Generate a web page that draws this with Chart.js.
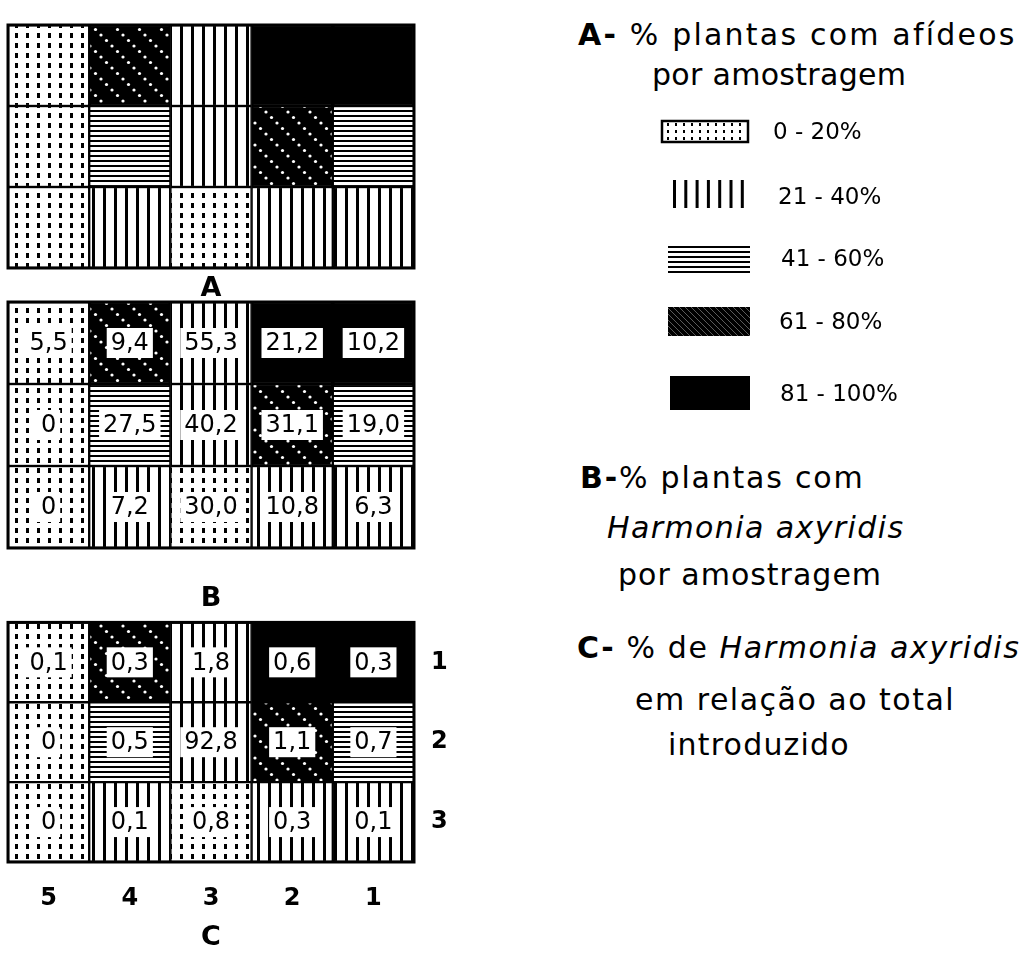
<!DOCTYPE html>
<html>
<head>
<meta charset="utf-8">
<script src="https://cdn.jsdelivr.net/npm/chart.js@4.4.1/dist/chart.umd.min.js"></script>
<style>
  body { margin: 0; background: #fff; width: 1024px; height: 959px; overflow: hidden; position: relative; font-family: 'DejaVu Sans', sans-serif; color: #000; }
  canvas, .wrap { position: absolute; }
  .t { position: absolute; white-space: nowrap; font-size: 30px; line-height: 30px; letter-spacing: 1.2px; }
  .t i { font-style: oblique; }
  .lg { position: absolute; white-space: nowrap; font-size: 23px; line-height: 23px; }
</style>
</head>
<body>
<div class="wrap" style="left:0;top:0"><canvas id="chartA" width="470" height="305"></canvas></div>
<div class="wrap" style="left:0;top:285px"><canvas id="chartB" width="470" height="330"></canvas></div>
<div class="wrap" style="left:0;top:591px"><canvas id="chartC" width="470" height="368"></canvas></div>
<canvas id="legend" width="140" height="330" style="left:640px;top:100px"></canvas>

<div class="t" style="left:578px;top:20px;letter-spacing:2.2px"><b>A-</b> % plantas com afídeos</div>
<div class="t" style="left:652px;top:60px;letter-spacing:0.3px">por amostragem</div>
<div id="legendLabels"></div>
<div class="t" style="left:580px;top:463px;letter-spacing:1.8px"><b>B-</b>% plantas com</div>
<div class="t" style="left:607px;top:513px;letter-spacing:1.4px"><i>Harmonia axyridis</i></div>
<div class="t" style="left:618px;top:560px;letter-spacing:1px">por amostragem</div>
<div class="t" style="left:577px;top:633px;letter-spacing:1.6px"><b>C-</b> % de <i>Harmonia axyridis</i></div>
<div class="t" style="left:635px;top:685px;letter-spacing:1.5px">em relação ao total</div>
<div class="t" style="left:668px;top:730px;letter-spacing:1.2px">introduzido</div>

<script>
'use strict';

let columns = ['5', '4', '3', '2', '1'];
let rowLabels = ['1', '2', '3'];
let classLabels = ['0 - 20%', '21 - 40%', '41 - 60%', '61 - 80%', '81 - 100%'];

// class of % plants with aphids for each cell (0 = 0-20% ... 4 = 81-100%), rows top to bottom
let aphidRow1 = [0, 3, 1, 4, 4];
let aphidRow2 = [0, 2, 1, 3, 2];
let aphidRow3 = [0, 1, 0, 1, 1];

// B - % plants with Harmonia axyridis
let plantsRow1 = [5.5, 9.4, 55.3, 21.2, 10.2];
let plantsRow2 = [0, 27.5, 40.2, 31.1, 19.0];
let plantsRow3 = [0, 7.2, 30.0, 10.8, 6.3];

// C - % of Harmonia axyridis relative to total released
let releasedRow1 = [0.1, 0.3, 1.8, 0.6, 0.3];
let releasedRow2 = [0, 0.5, 92.8, 1.1, 0.7];
let releasedRow3 = [0, 0.1, 0.8, 0.3, 0.1];

let aphidRows = [aphidRow1, aphidRow2, aphidRow3];
let fontFamily = "'DejaVu Sans', sans-serif";

function tile(w, h, draw) {
    let c = document.createElement('canvas');
    c.width = w;
    c.height = h;
    let g = c.getContext('2d');
    draw(g);
    return document.createElement('canvas').getContext('2d').createPattern(c, 'repeat');
}

let patterns = [
    tile(11, 10, g => {
        g.fillStyle = '#fff'; g.fillRect(0, 0, 11, 10);
        g.fillStyle = '#000'; g.fillRect(4, 3, 3, 5);
    }),
    tile(11, 2, g => {
        g.fillStyle = '#fff'; g.fillRect(0, 0, 11, 2);
        g.fillStyle = '#000'; g.fillRect(4, 0, 3, 2);
    }),
    tile(2, 5, g => {
        g.fillStyle = '#fff'; g.fillRect(0, 0, 2, 5);
        g.fillStyle = '#000'; g.fillRect(0, 0, 2, 2);
    }),
    tile(22, 22, g => {
        g.fillStyle = '#000'; g.fillRect(0, 0, 22, 22);
        g.fillStyle = '#fff';
        for (let i = 0; i < 4; i++) {
            g.beginPath();
            g.arc(2 + i * 5.5, 2 + i * 5.5, 1.6, 0, Math.PI * 2);
            g.fill();
        }
    }),
    '#000'
];

let legendHatch = tile(6, 6, g => {
    g.fillStyle = '#000'; g.fillRect(0, 0, 6, 6);
    g.strokeStyle = 'rgba(255,255,255,0.45)';
    g.lineWidth = 0.8;
    g.beginPath(); g.moveTo(0, 0); g.lineTo(6, 6); g.stroke();
});

let legendDots = tile(8, 7, g => {
    g.fillStyle = '#fff'; g.fillRect(0, 0, 8, 7);
    g.fillStyle = '#000'; g.fillRect(3, 2, 2, 3);
});

function formatValue(v) {
    return v === 0 ? '0' : v.toFixed(1).replace('.', ',');
}

function cellPlugin(valueRows) {
    return {
        id: 'cells',
        afterDatasetsDraw(chart) {
            let ctx = chart.ctx;
            let area = chart.chartArea;
            ctx.save();
            if (valueRows) {
                ctx.font = '24px ' + fontFamily;
                ctx.textAlign = 'center';
                ctx.textBaseline = 'middle';
                chart.data.datasets.forEach((ds, d) => {
                    let meta = chart.getDatasetMeta(d);
                    let values = valueRows[ds.row];
                    meta.data.forEach((bar, i) => {
                        let label = formatValue(values[i]);
                        let cy = (bar.y + bar.base) / 2;
                        let w = ctx.measureText(label).width + 8;
                        ctx.fillStyle = '#fff';
                        ctx.fillRect(bar.x - w / 2, cy - 15, w, 30);
                        ctx.fillStyle = '#000';
                        ctx.fillText(label, bar.x, cy + 1);
                    });
                });
            }
            ctx.strokeStyle = '#000';
            ctx.lineWidth = 3;
            ctx.strokeRect(area.left, area.top, area.right - area.left, area.bottom - area.top);
            ctx.restore();
        }
    };
}

function gridChart(id, title, valueRows, showTicks, padTop, axisHeight, titlePad) {
    let datasets = [];
    for (let r = aphidRows.length - 1; r >= 0; r--) {
        datasets.push({
            row: r,
            data: columns.map(() => 1),
            backgroundColor: aphidRows[r].map(k => patterns[k]),
            borderColor: '#000',
            borderWidth: 1.5,
            borderSkipped: false,
            barPercentage: 1,
            categoryPercentage: 1
        });
    }
    return new Chart(document.getElementById(id), {
        type: 'bar',
        data: { labels: columns, datasets: datasets },
        options: {
            responsive: false,
            animation: false,
            events: [],
            layout: { padding: { left: 8, top: padTop, right: 0, bottom: 0 } },
            plugins: { legend: { display: false }, tooltip: { enabled: false } },
            scales: {
                x: {
                    stacked: true,
                    grid: { display: false, drawTicks: false },
                    border: { display: false },
                    ticks: { display: showTicks, padding: 22, color: '#000', font: { family: fontFamily, size: 24, weight: 'bold' } },
                    title: { display: true, text: title, color: '#000', font: { family: fontFamily, size: 27, weight: 'bold' }, padding: { top: 0, bottom: titlePad } },
                    afterFit: s => { s.height = axisHeight; }
                },
                y: {
                    stacked: true,
                    position: 'right',
                    min: 0,
                    max: rowLabels.length,
                    grid: { display: false, drawTicks: false },
                    border: { display: false },
                    ticks: {
                        display: showTicks,
                        padding: 17,
                        color: '#000',
                        font: { family: fontFamily, size: 24, weight: 'bold' },
                        callback: v => rowLabels[rowLabels.length - 1 - Math.floor(v)]
                    },
                    afterBuildTicks: axis => { axis.ticks = rowLabels.map((_, i) => ({ value: i + 0.5 })); },
                    afterFit: s => { s.width = 56; }
                }
            }
        },
        plugins: [cellPlugin(valueRows)]
    });
}

gridChart('chartA', 'A', null, false, 25, 37, 0);
gridChart('chartB', 'B', [plantsRow1, plantsRow2, plantsRow3], false, 17, 67, 0);
gridChart('chartC', 'C', [releasedRow1, releasedRow2, releasedRow3], true, 3, 97, 5);

// legend swatches
let lg = document.getElementById('legend').getContext('2d');
lg.fillStyle = legendDots;
lg.fillRect(22, 21, 86, 21);
lg.lineWidth = 2.5;
lg.strokeRect(22, 21, 86, 21);
lg.fillStyle = '#000';
for (let i = 0; i < 7; i++) {
    lg.fillRect(33 + i * 11.3, 80, 3, 28);
}
for (let i = 0; i < 6; i++) {
    lg.fillRect(28, 146 + i * 5, 82, 2);
}
lg.fillStyle = legendHatch;
lg.fillRect(28, 207, 82, 29);
lg.fillStyle = '#000';
lg.fillRect(30, 276, 80, 34);

let legendX = [773, 778, 781, 779, 780];
let legendY = [131, 196, 258, 321, 393];
let labelsEl = document.getElementById('legendLabels');
for (let i = 0; i < classLabels.length; i++) {
    let el = document.createElement('div');
    el.className = 'lg';
    el.style.left = legendX[i] + 'px';
    el.style.top = (legendY[i] - 11) + 'px';
    el.textContent = classLabels[i];
    labelsEl.appendChild(el);
}
</script>
</body>
</html>
